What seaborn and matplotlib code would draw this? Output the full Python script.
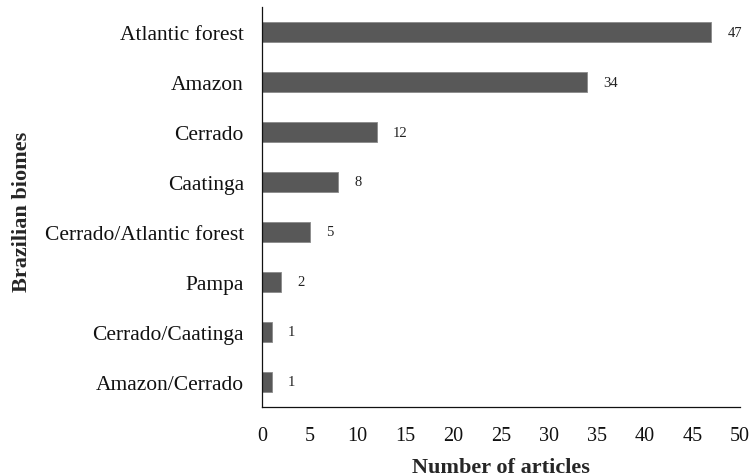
import matplotlib
matplotlib.use("Agg")
import matplotlib.pyplot as plt
import seaborn as sns
import pandas as pd

biomes = ["Atlantic forest", "Amazon", "Cerrado", "Caatinga",
          "Cerrado/Atlantic forest", "Pampa", "Cerrado/Caatinga", "Amazon/Cerrado"]
articles = [47, 34, 12, 8, 5, 2, 1, 1]
x_ticks = [0, 5, 10, 15, 20, 25, 30, 35, 40, 45, 50]

sns.set_theme(style="white")
plt.rcParams["font.family"] = ["Liberation Serif", "DejaVu Serif"]

df = pd.DataFrame({"biome": biomes, "articles": articles})

fig = plt.figure(figsize=(7.51, 4.77), dpi=100)
ax = fig.add_axes([262 / 751, 69 / 477, 478 / 751, 400 / 477])

sns.barplot(data=df, x="articles", y="biome", orient="h", color="#585858",
            width=0.4, edgecolor="#8a8a8a", linewidth=0.6, saturation=1, ax=ax)

for i, v in enumerate(articles):
    ax.text(v + 1.7, i, str(v), va="center", ha="left", fontsize=10.5, color="#222222")

ax.set_xlim(0, 50)
ax.set_ylim(len(biomes) - 0.5, -0.5)
ax.set_xticks(x_ticks)
ax.set_xticklabels([str(t) for t in x_ticks], fontsize=14.5, color="#111111")
ax.tick_params(axis="x", direction="out", length=4, width=0.8, color="#222222", pad=10)
ax.tick_params(axis="y", length=0, labelsize=15.5, labelcolor="#111111", pad=13)

for side in ("top", "right"):
    ax.spines[side].set_visible(False)
for side in ("left", "bottom"):
    ax.spines[side].set_color("#111111")
    ax.spines[side].set_linewidth(0.9)

ax.set_xlabel("Number of articles", fontsize=16, fontweight="bold", labelpad=8)
ax.set_ylabel("Brazilian biomes", fontsize=16, fontweight="bold")
ax.yaxis.set_label_coords((32 - 262) / 478, 0.49)

fig.savefig("out.png", dpi=100)
